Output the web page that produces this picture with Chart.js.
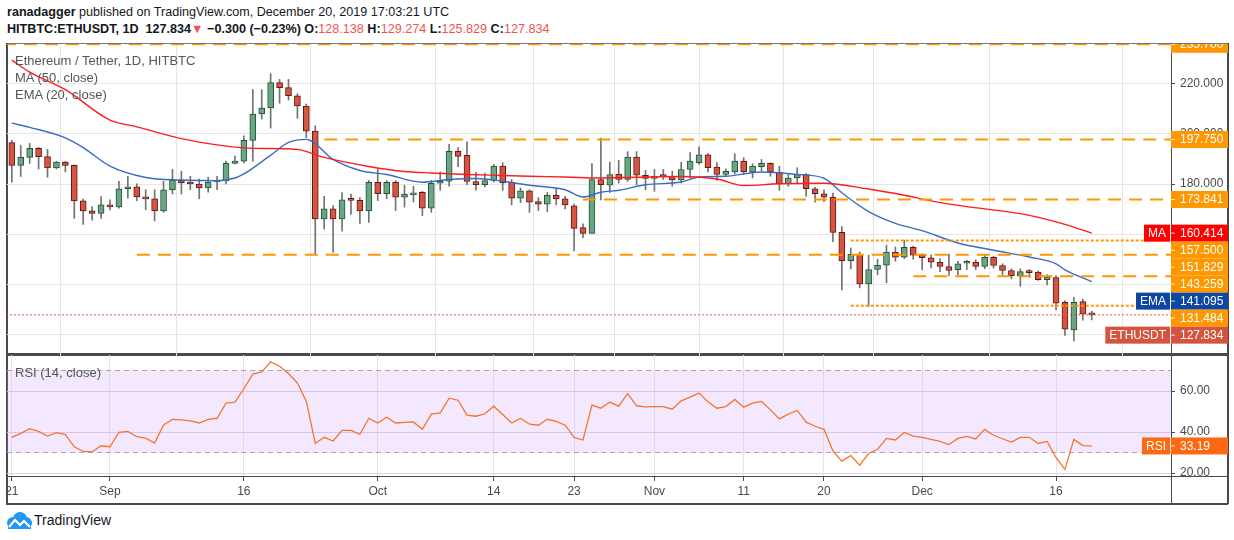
<!DOCTYPE html>
<html>
<head>
<meta charset="utf-8">
<script src="https://cdn.jsdelivr.net/npm/chart.js@4.4.1/dist/chart.umd.min.js"></script>
<style>
  html, body { margin: 0; padding: 0; background: #fff; }
  body { width: 1234px; height: 540px; position: relative; overflow: hidden; font-family: 'Liberation Sans', Arial, sans-serif; color: #131722; }
  .abs { position: absolute; }
  .line { position: absolute; background: #4a4a4a; }
  #hdr1 { left: 7px; top: 5px; font-size: 12.6px; white-space: nowrap; }
  #hdr2 { left: 7px; top: 22px; font-size: 12.6px; white-space: nowrap; font-weight: bold; }
  #hdr2 .v { color: #ef5350; font-weight: normal; }
  .legend { left: 15px; font-size: 13px; color: #555; white-space: nowrap; }
  #footer { left: 34px; top: 512px; font-size: 14px; color: #131722; }
  canvas { position: absolute; left: 0; }
</style>
</head>
<body>
<div id="hdr1" class="abs"><b>ranadagger</b> published on TradingView.com, December 20, 2019 17:03:21 UTC</div>
<div id="hdr2" class="abs">HITBTC:ETHUSDT, 1D&nbsp; 127.834<span style="color:#ef5350">&#9660;</span> &minus;0.300 (&minus;0.23%) O:<span class="v">128.138</span> H:<span class="v">129.274</span> L:<span class="v">125.829</span> C:<span class="v">127.834</span></div>

<!-- frame -->
<div class="line" style="left:6px;top:43px;width:1222px;height:1px;background:#777"></div>
<div class="line" style="left:6px;top:43px;width:1.5px;height:461px"></div>
<div class="line" style="left:1227px;top:43px;width:1.5px;height:461px"></div>
<div class="line" style="left:6px;top:503px;width:1222px;height:1.5px"></div>
<div class="line" style="left:6px;top:353px;width:1222px;height:2.5px"></div>
<div class="line" style="left:6px;top:476px;width:1222px;height:1px"></div>
<div class="line" style="left:1171px;top:43px;width:1px;height:461px"></div>

<canvas id="priceCanvas" width="1234" height="320" style="top:36px"></canvas>
<canvas id="rsiCanvas" width="1234" height="160" style="top:348px"></canvas>

<div class="abs legend" style="top:53px">Ethereum / Tether, 1D, HITBTC</div>
<div class="abs legend" style="top:70px">MA (50, close)</div>
<div class="abs legend" style="top:87px">EMA (20, close)</div>
<div class="abs legend" style="top:365px">RSI (14, close)</div>

<svg class="abs" style="left:5px;top:511px" width="28" height="20" viewBox="0 0 28 20">
  <circle cx="8" cy="12" r="6" fill="#2196f3"/>
  <circle cx="15" cy="8" r="7" fill="#2196f3"/>
  <circle cx="21" cy="12" r="6" fill="#2196f3"/>
  <rect x="3" y="12" width="23" height="6" fill="#2196f3"/>
  <polyline points="4,16 10,9 15,14 19,10 25,16" fill="none" stroke="#fff" stroke-width="2.2"/>
</svg>
<div id="footer" class="abs">TradingView</div>

<script>
Chart.defaults.font.family = "'Liberation Sans', Arial, sans-serif";
Chart.defaults.color = '#4a4a4a';

// x axis: one unit per day, day 0 = Aug 21 2019
const tickDays = [0, 11, 26, 41, 54, 63, 72, 82, 91, 102, 117];
const tickLabels = ['21', 'Sep', '16', 'Oct', '14', '23', 'Nov', '11', '20', 'Dec', '16'];

const opens = [
  196.5, 187.4, 190.6, 194.2, 190.9, 186.4, 188.7, 187.4, 173.3, 169.3,
  168.3, 171.7, 170.9, 178.1, 178.9, 174.9, 174.1, 169.3, 177.7, 181.5,
  180.5, 180.0, 178.4, 180.8, 181.2, 188.2, 189.1, 197.4, 207.9, 210.3,
  220.4, 218.4, 215.2, 211.1, 201.1, 166.1, 170.1, 166.1, 173.7, 173.5,
  169.3, 180.7, 176.1, 180.7, 174.8, 175.7, 176.7, 170.4, 180.3, 181.1,
  193.0, 191.4, 181.0, 179.7, 181.4, 187.1, 180.7, 174.4, 177.3, 173.0,
  172.0, 175.5, 174.1, 171.3, 162.6, 160.3, 181.8, 179.5, 184.0, 181.8,
  190.7, 183.5, 182.2, 183.5, 183.1, 181.6, 185.8, 188.5, 191.6, 186.7,
  183.8, 184.8, 189.1, 184.8, 186.9, 188.2, 184.8, 180.1, 182.4, 183.8,
  178.1, 176.1, 174.8, 160.7, 149.4, 152.0, 140.2, 145.9, 147.6, 152.9,
  150.8, 154.8, 151.6, 150.6, 148.8, 147.1, 145.8, 148.4, 148.9, 147.1,
  150.8, 147.5, 145.5, 143.5, 144.9, 144.9, 141.9, 142.7, 132.8, 121.8,
  133.1, 128.138
];
const highs = [
  197.4, 195.4, 196.2, 194.6, 193.8, 189.0, 189.0, 187.6, 174.0, 171.0,
  175.0, 173.7, 181.1, 183.1, 180.1, 177.7, 177.7, 181.1, 185.8, 185.1,
  183.1, 182.0, 182.7, 183.1, 189.1, 191.1, 199.2, 217.7, 217.6, 224.0,
  221.7, 221.7, 216.0, 211.9, 203.2, 175.1, 171.4, 176.6, 176.0, 174.6,
  181.4, 185.8, 181.4, 181.4, 179.5, 179.1, 177.1, 181.4, 184.8, 195.8,
  194.5, 196.8, 184.7, 184.4, 187.8, 188.5, 181.8, 178.4, 177.7, 174.6,
  176.7, 178.4, 175.1, 172.0, 164.1, 188.1, 198.3, 188.7, 189.4, 192.9,
  192.9, 185.4, 185.8, 185.8, 185.1, 188.7, 192.5, 194.8, 192.1, 188.5,
  186.0, 192.1, 190.5, 188.1, 189.8, 188.5, 187.1, 183.8, 186.5, 184.2,
  178.7, 177.7, 176.4, 163.0, 154.5, 152.9, 151.6, 150.0, 155.6, 154.9,
  157.6, 155.3, 152.2, 151.8, 150.2, 152.1, 149.2, 149.6, 149.8, 151.8,
  151.2, 148.2, 146.2, 146.2, 145.9, 145.3, 143.8, 143.5, 133.5, 134.8,
  134.1, 129.274
];
const lows = [
  180.8, 183.0, 188.2, 186.0, 182.7, 186.0, 184.8, 166.3, 163.9, 165.6,
  166.3, 169.7, 170.4, 174.4, 173.3, 169.7, 165.3, 168.7, 176.0, 176.0,
  177.7, 174.1, 176.7, 177.7, 180.0, 188.0, 188.4, 189.1, 205.9, 202.3,
  212.2, 213.5, 206.2, 198.5, 152.0, 162.0, 152.7, 161.2, 167.9, 164.3,
  164.7, 173.4, 174.1, 169.4, 170.8, 172.8, 167.4, 168.7, 177.5, 179.1,
  186.9, 179.7, 177.5, 178.8, 180.8, 177.5, 171.7, 172.6, 168.7, 169.4,
  169.0, 171.7, 170.1, 153.3, 158.6, 160.3, 173.7, 176.6, 180.4, 181.1,
  179.7, 177.7, 177.1, 181.8, 179.1, 180.4, 182.4, 187.8, 184.8, 181.4,
  183.1, 184.0, 183.8, 182.4, 185.1, 183.1, 177.5, 179.1, 180.1, 175.1,
  172.8, 173.0, 157.0, 137.8, 146.2, 138.6, 131.2, 143.8, 140.6, 149.2,
  150.2, 150.0, 145.8, 146.5, 145.1, 143.5, 143.8, 145.9, 145.9, 146.2,
  146.5, 143.8, 142.2, 139.2, 142.9, 141.6, 139.8, 129.8, 119.6, 117.4,
  125.7, 125.829
];
const closes = [
  187.4, 190.6, 194.2, 190.9, 186.4, 188.7, 187.4, 173.3, 169.3, 168.3,
  171.7, 170.9, 178.1, 178.9, 174.9, 174.1, 169.3, 177.7, 181.5, 180.5,
  180.0, 178.4, 180.8, 181.2, 188.2, 189.1, 197.4, 207.9, 210.3, 220.4,
  218.4, 215.2, 211.1, 201.1, 166.1, 170.1, 166.1, 173.7, 173.5, 169.3,
  180.7, 176.1, 180.7, 174.8, 176.0, 176.4, 170.4, 180.3, 181.1, 193.0,
  191.0, 181.0, 179.7, 181.4, 187.1, 180.4, 174.4, 177.3, 172.8, 172.0,
  175.5, 174.1, 171.7, 162.3, 160.3, 181.8, 179.7, 183.8, 181.8, 190.7,
  183.5, 182.2, 183.1, 183.0, 181.6, 185.8, 189.1, 191.6, 186.5, 183.8,
  185.1, 189.1, 184.8, 187.1, 188.2, 184.8, 180.1, 182.4, 183.8, 178.1,
  176.1, 174.8, 160.7, 149.4, 152.0, 140.2, 145.9, 147.6, 152.9, 150.8,
  154.8, 151.6, 150.6, 148.8, 147.1, 145.5, 148.2, 148.9, 147.1, 150.8,
  147.5, 145.5, 143.5, 145.1, 144.7, 141.9, 142.9, 132.5, 122.1, 132.8,
  128.1, 127.834
];

// moving averages at sample days
const maDays = [0, 2, 6, 11, 14, 19, 23, 26, 30, 32, 35, 40, 44, 47, 51, 55, 58, 62, 66, 70, 75, 79, 82, 86, 91, 96, 100, 103, 107, 111, 114, 118, 121];
const maValues = [229.4, 224.6, 217.6, 205.5, 202.8, 198.1, 195.6, 194.4, 194.1, 193.8, 190.6, 187.0, 185.0, 184.4, 183.8, 183.4, 183.1, 182.8, 182.4, 182.7, 183.0, 182.0, 179.4, 180.1, 180.3, 178.0, 175.5, 173.3, 171.0, 169.2, 167.5, 163.9, 160.414];
const emaDays = [0, 2, 6, 8, 11, 15, 19, 23, 25, 26, 29, 31, 33, 36, 39, 42, 46, 49, 52, 55, 58, 62, 64, 66, 68, 71, 75, 77, 80, 84, 88, 91, 93, 96, 99, 102, 106, 110, 114, 117, 118, 121];
const emaValues = [204.3, 202.6, 198.4, 194.5, 187.1, 182.6, 181.6, 181.3, 182.4, 184.0, 191.5, 196.6, 197.8, 189.8, 185.4, 183.8, 180.7, 181.8, 182.2, 181.1, 179.5, 177.7, 174.8, 176.7, 177.5, 179.7, 180.8, 182.8, 183.1, 184.8, 183.8, 182.3, 176.5, 169.0, 164.3, 161.4, 156.5, 153.6, 150.9, 148.2, 145.8, 141.095];

const rsiValues = [
  37.4, 39.3, 41.6, 40.3, 38.0, 39.7, 38.7, 32.8, 30.5, 30.3,
  33.3, 32.8, 39.8, 40.3, 37.7, 37.0, 34.6, 43.4, 46.2, 45.9,
  45.4, 44.4, 46.2, 46.7, 54.1, 54.6, 61.1, 68.2, 69.3, 74.2,
  72.1, 68.5, 63.9, 54.9, 34.4, 37.4, 35.6, 40.8, 40.8, 38.9,
  46.7, 44.4, 47.2, 44.4, 44.7, 44.9, 41.3, 48.7, 49.3, 56.5,
  55.5, 48.2, 47.7, 48.9, 52.6, 48.5, 44.4, 46.7, 43.8, 43.3,
  46.2, 45.2, 43.3, 37.4, 36.1, 53.1, 51.6, 54.6, 52.6, 58.7,
  52.8, 52.3, 52.4, 52.4, 51.1, 55.2, 57.0, 59.0, 54.7, 51.6,
  52.4, 55.9, 52.1, 54.1, 54.9, 50.8, 46.4, 48.7, 50.5, 44.8,
  42.8, 41.3, 30.8, 25.8, 28.5, 23.8, 29.5, 31.6, 36.9, 36.1,
  39.8, 38.0, 37.4, 36.4, 35.4, 33.9, 36.9, 37.9, 36.6, 41.3,
  38.4, 36.7, 35.1, 37.4, 37.4, 34.4, 35.4, 27.5, 21.8, 36.4,
  33.4, 33.19
];
const rsiBands = [70, 30];

// horizontal support / resistance drawings
const levelValues = [235.7, 197.75, 173.841, 157.5, 151.829, 143.259, 131.484];
const levelStartDays = [-1, 35, 64, 94, 14, 101, 94];

const priceTicks = [120, 140, 160, 180, 200, 220];
const rsiTicks = [20, 40, 60];

// ---- layout / style ----
const X_MIN = -0.54;
const X_MAX = 129.88;
const AXIS_W = 57;
const dottedLevels = [157.5, 131.484];
const axisFont = { family: "'Liberation Sans', Arial, sans-serif", size: 12 };
const gridColor = '#e6e6e6';
const frameColor = '#4a4a4a';
const upFill = '#6ba583', upLine = '#225437';
const downFill = '#d75442', downLine = '#5b1a13';

function fixAxisWidth(scale) {
    scale.width = AXIS_W;
    scale.paddingTop = 0;
    scale.paddingBottom = 0;
}

function fixXAxis(height) {
    return function (scale) {
        scale.height = height;
        scale.paddingLeft = 0;
        scale.paddingRight = 0;
    };
}

// price-scale badges on the right axis, stacked so they don't overlap
const badgePlugin = {
    id: 'badges',
    afterDraw(chart, args, opts) {
        const { ctx, chartArea } = chart;
        const y = chart.scales.y;
        const items = opts.items.map(it => Object.assign({}, it, { py: y.getPixelForValue(it.value) }));
        items.sort((a, b) => a.py - b.py);
        let prev = -Infinity;
        ctx.save();
        ctx.beginPath();
        ctx.rect(0, chartArea.top, chart.width, chart.height - chartArea.top);
        ctx.clip();
        ctx.font = `${axisFont.size}px ${axisFont.family}`;
        ctx.textBaseline = 'middle';
        items.forEach(it => {
            const cy = Math.max(it.py, prev + 17);
            prev = cy;
            ctx.fillStyle = it.color;
            ctx.fillRect(chartArea.right, cy - 8.5, AXIS_W, 17);
            ctx.strokeStyle = 'rgba(255,255,255,0.8)';
            ctx.lineWidth = 1;
            ctx.beginPath();
            ctx.moveTo(chartArea.right, cy);
            ctx.lineTo(chartArea.right + 4, cy);
            ctx.stroke();
            ctx.fillStyle = '#fff';
            ctx.textAlign = 'left';
            ctx.fillText(it.text, chartArea.right + 9, cy + 0.5);
            if (it.tag) {
                const w = ctx.measureText(it.tag).width + 8;
                ctx.fillStyle = it.color;
                ctx.fillRect(chartArea.right - 1 - w, cy - 8.5, w, 17);
                ctx.fillStyle = '#fff';
                ctx.textAlign = 'center';
                ctx.fillText(it.tag, chartArea.right - 1 - w / 2, cy + 0.5);
            }
        });
        ctx.restore();
    }
};

const last = closes.length - 1;

const bodyData = opens.map((o, i) => ({ x: i, y: [o, closes[i]] }));
const wickData = lows.map((l, i) => ({ x: i, y: [l, highs[i]] }));
const isUp = opens.map((o, i) => closes[i] >= o);

const levelDatasets = levelValues.map((v, k) => ({
    type: 'line',
    data: [{ x: levelStartDays[k], y: v }, { x: X_MAX + 1, y: v }],
    borderColor: '#ff9800',
    borderWidth: 2,
    borderDash: dottedLevels.includes(v) ? [3, 2] : [13, 8],
    pointRadius: 0,
    order: 1
}));

const priceChart = new Chart(document.getElementById('priceCanvas'), {
    type: 'bar',
    data: {
        datasets: [
            ...levelDatasets,
            {
                type: 'line',
                data: [{ x: X_MIN - 1, y: closes[last] }, { x: X_MAX + 1, y: closes[last] }],
                borderColor: '#e0533f',
                borderWidth: 1,
                borderDash: [2, 2],
                pointRadius: 0,
                order: 1
            },
            {
                type: 'line',
                label: 'MA',
                data: maDays.map((d, k) => ({ x: d, y: maValues[k] })),
                borderColor: '#ff1c1c',
                borderWidth: 1.4,
                pointRadius: 0,
                cubicInterpolationMode: 'monotone',
                order: 2
            },
            {
                type: 'line',
                label: 'EMA',
                data: emaDays.map((d, k) => ({ x: d, y: emaValues[k] })),
                borderColor: '#3a6cc6',
                borderWidth: 1.4,
                pointRadius: 0,
                cubicInterpolationMode: 'monotone',
                order: 2
            },
            {
                label: 'body',
                data: bodyData,
                backgroundColor: isUp.map(u => u ? upFill : downFill),
                borderColor: isUp.map(u => u ? upLine : downLine),
                borderWidth: 1,
                borderSkipped: false,
                barThickness: 6,
                minBarLength: 2,
                grouped: false,
                order: 3
            },
            {
                label: 'wick',
                data: wickData,
                backgroundColor: '#737375',
                borderWidth: 0,
                barThickness: 1,
                grouped: false,
                order: 4
            }
        ]
    },
    options: {
        responsive: false,
        animation: false,
        events: [],
        layout: { padding: { top: 8, left: 7, right: 6, bottom: 0 } },
        plugins: {
            legend: { display: false },
            tooltip: { enabled: false },
            badges: {
                items: [
                    { value: levelValues[0], text: levelValues[0].toFixed(3), color: '#ff9800' },
                    { value: levelValues[1], text: levelValues[1].toFixed(3), color: '#ff9800' },
                    { value: levelValues[2], text: levelValues[2].toFixed(3), color: '#ff9800' },
                    { value: maValues[maValues.length - 1], text: maValues[maValues.length - 1].toFixed(3), color: '#ff0000', tag: 'MA' },
                    { value: levelValues[3], text: levelValues[3].toFixed(3), color: '#ff9800' },
                    { value: levelValues[4], text: levelValues[4].toFixed(3), color: '#ff9800' },
                    { value: levelValues[5], text: levelValues[5].toFixed(3), color: '#ff9800' },
                    { value: emaValues[emaValues.length - 1], text: emaValues[emaValues.length - 1].toFixed(3), color: '#0d47a1', tag: 'EMA' },
                    { value: levelValues[6], text: levelValues[6].toFixed(3), color: '#ff9800' },
                    { value: closes[last], text: closes[last].toFixed(3), color: '#d5543f', tag: 'ETHUSDT' }
                ]
            }
        },
        scales: {
            x: {
                type: 'linear',
                min: X_MIN,
                max: X_MAX,
                offset: false,
                afterBuildTicks: s => { s.ticks = tickDays.map(v => ({ value: v })); },
                afterFit: fixXAxis(0),
                ticks: { display: false },
                grid: { color: gridColor, drawTicks: false },
                border: { display: false }
            },
            y: {
                position: 'right',
                min: 111.43,
                max: 235.82,
                afterBuildTicks: s => { s.ticks = priceTicks.map(v => ({ value: v })); },
                afterFit: fixAxisWidth,
                ticks: { font: axisFont, color: '#4a4a4a', padding: 5, callback: v => v.toFixed(3) },
                grid: { color: gridColor, tickLength: 4, tickColor: frameColor },
                border: { display: true, color: frameColor }
            }
        }
    },
    plugins: [badgePlugin]
});

const rsiChart = new Chart(document.getElementById('rsiCanvas'), {
    type: 'line',
    data: {
        datasets: [
            {
                data: rsiValues.map((v, i) => ({ x: i, y: v })),
                borderColor: '#f7752b',
                borderWidth: 1.3,
                pointRadius: 0,
                tension: 0,
                fill: false,
                order: 0
            },
            {
                data: [{ x: X_MIN - 1, y: rsiBands[0] }, { x: X_MAX + 1, y: rsiBands[0] }],
                borderColor: '#a9a2b3',
                borderWidth: 1,
                borderDash: [5, 4],
                pointRadius: 0,
                fill: '+1',
                backgroundColor: 'rgba(200, 150, 245, 0.22)',
                order: 1
            },
            {
                data: [{ x: X_MIN - 1, y: rsiBands[1] }, { x: X_MAX + 1, y: rsiBands[1] }],
                borderColor: '#a9a2b3',
                borderWidth: 1,
                borderDash: [5, 4],
                pointRadius: 0,
                fill: false,
                order: 1
            }
        ]
    },
    options: {
        responsive: false,
        animation: false,
        events: [],
        layout: { padding: { top: 7, left: 7, right: 6, bottom: 5 } },
        plugins: {
            legend: { display: false },
            tooltip: { enabled: false },
            badges: {
                items: [
                    { value: rsiValues[last], text: rsiValues[last].toFixed(2), color: '#fb6a12', tag: 'RSI' }
                ]
            }
        },
        scales: {
            x: {
                type: 'linear',
                min: X_MIN,
                max: X_MAX,
                offset: false,
                afterBuildTicks: s => { s.ticks = tickDays.map(v => ({ value: v })); },
                afterFit: fixXAxis(27),
                ticks: {
                    font: axisFont,
                    color: '#4a4a4a',
                    padding: 3,
                    autoSkip: false,
                    maxRotation: 0,
                    callback: v => tickLabels[tickDays.indexOf(v)]
                },
                grid: { color: gridColor, tickLength: 5, tickColor: frameColor },
                border: { display: true, color: frameColor }
            },
            y: {
                position: 'right',
                min: 18.54,
                max: 77.56,
                afterBuildTicks: s => { s.ticks = rsiTicks.map(v => ({ value: v })); },
                afterFit: fixAxisWidth,
                ticks: { font: axisFont, color: '#4a4a4a', padding: 5, callback: v => v.toFixed(2) },
                grid: { color: '#dcd3e6', tickLength: 4, tickColor: frameColor },
                border: { display: true, color: frameColor }
            }
        }
    },
    plugins: [badgePlugin]
});
</script>
</body>
</html>
